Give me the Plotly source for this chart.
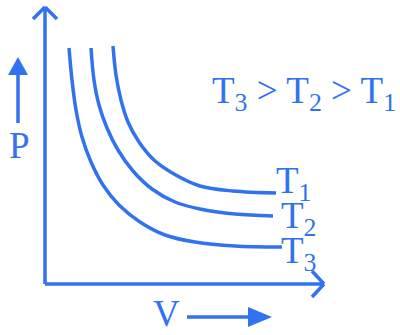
import plotly.graph_objects as go

# Isotherm readings (V, P) in arbitrary units, origin at the axis corner
V_T1 = [68, 71, 76, 83, 94, 109, 129, 155, 188, 231]
P_T1 = [238, 209, 184, 162, 142, 124, 110, 98, 93, 91]
V_T2 = [46, 49, 54, 62, 73, 88, 107, 130, 155, 190, 228]
P_T2 = [236, 204, 179, 156, 134, 113, 95, 82, 75, 70, 68]
V_T3 = [24, 27, 31, 37, 46, 58, 74, 95, 120, 150, 190, 237]
P_T3 = [236, 204, 174, 147, 122, 99, 79, 62, 49, 42, 38, 37]
curve_labels = ["T<sub>1</sub>", "T<sub>2</sub>", "T<sub>3</sub>"]
relation_text = "T<sub>3</sub> > T<sub>2</sub> > T<sub>1</sub>"

BLUE = "#3172f0"
LW = 3.5
FONT = "Liberation Serif"

fig = go.Figure()
for vs, ps in [(V_T1, P_T1), (V_T2, P_T2), (V_T3, P_T3)]:
    fig.add_trace(go.Scatter(x=vs, y=ps, mode="lines",
                             line=dict(color=BLUE, width=LW, shape="spline", smoothing=1.0),
                             hoverinfo="skip", showlegend=False))

shapes = []
def seg(x0, y0, x1, y1):
    shapes.append(dict(type="line", x0=x0, y0=y0, x1=x1, y1=y1, xref="x", yref="y",
                       line=dict(color=BLUE, width=LW)))

# axes
seg(0, 0, 0, 276)
seg(0, 0, 278, 0)
# open chevrons
seg(-12, 265, 0, 277)
seg(12, 265, 0, 277)
seg(267, 13, 279, 0)
seg(267, -13, 279, 0)
# P direction arrow
seg(-27, 161, -27, 212)
shapes.append(dict(type="path", path="M -37 209 L -27 227 L -17 209 Z", xref="x", yref="y",
                   fillcolor=BLUE, line=dict(color=BLUE, width=0)))
# V direction arrow
seg(142, -33, 206, -33)
shapes.append(dict(type="path", path="M 203 -23 L 227 -33 L 203 -43 Z", xref="x", yref="y",
                   fillcolor=BLUE, line=dict(color=BLUE, width=0)))

annotations = []
def label(text, x, y, size=37, xanchor="left", yanchor="middle"):
    annotations.append(dict(text=text, x=x, y=y, xref="x", yref="y", showarrow=False,
                            xanchor=xanchor, yanchor=yanchor,
                            font=dict(family=FONT, size=size, color=BLUE)))

label(curve_labels[0], 229, 101)
label(curve_labels[1], 234, 66)
label(curve_labels[2], 234, 31)
label(relation_text, 165, 191)
label("P", -38, 139)
label("V", 106, -29)

fig.update_layout(
    width=400, height=335, margin=dict(l=0, r=0, t=0, b=0),
    paper_bgcolor="white", plot_bgcolor="white",
    xaxis=dict(range=[-45, 355], visible=False, fixedrange=True),
    yaxis=dict(range=[-51, 284], visible=False, fixedrange=True),
    shapes=shapes, annotations=annotations,
)
fig.write_html("out.html")
